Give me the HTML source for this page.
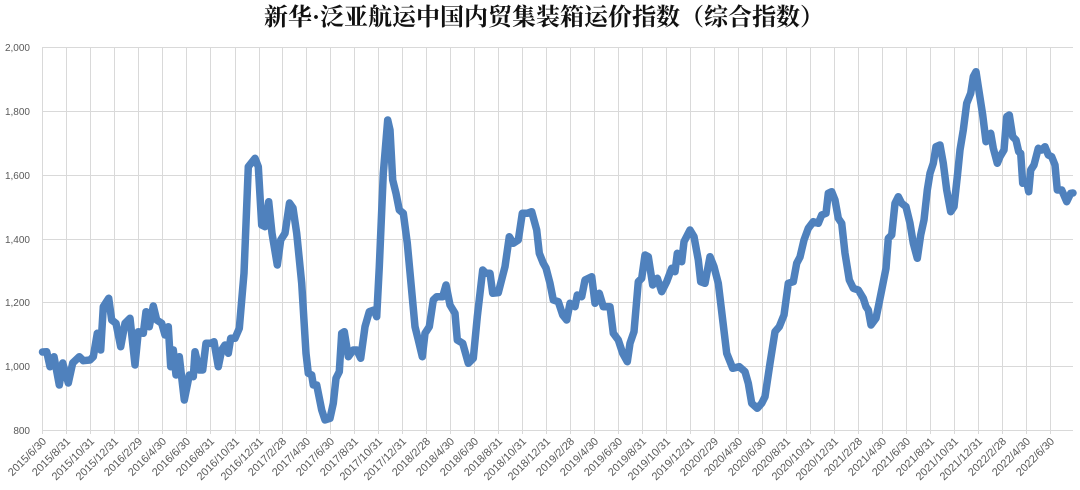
<!DOCTYPE html>
<html>
<head>
<meta charset="utf-8">
<style>
  html,body{margin:0;padding:0;background:#fff;}
  svg{display:block;}
  .yl{font-family:"Liberation Sans",sans-serif;font-size:10px;fill:#595959;}
  .xl{font-family:"Liberation Sans",sans-serif;font-size:11px;fill:#595959;}
  .title{font-family:"Liberation Serif","Noto Serif CJK SC",serif;font-size:24px;font-weight:bold;fill:#111;}
</style>
</head>
<body>
<svg width="1080" height="490" viewBox="0 0 1080 490" xmlns="http://www.w3.org/2000/svg">
  <rect x="0" y="0" width="1080" height="490" fill="#fff"/>
  <text class="title" x="264" y="25">新华·泛亚航运中国内贸集装箱运价指数（综合指数）</text>

  <!-- horizontal gridlines -->
  <g stroke="#d9d9d9" stroke-width="1">
    <line x1="42" y1="47.5" x2="1073" y2="47.5"/>
    <line x1="42" y1="111.5" x2="1073" y2="111.5"/>
    <line x1="42" y1="175.5" x2="1073" y2="175.5"/>
    <line x1="42" y1="239.5" x2="1073" y2="239.5"/>
    <line x1="42" y1="302.5" x2="1073" y2="302.5"/>
    <line x1="42" y1="366.5" x2="1073" y2="366.5"/>
    <line x1="42" y1="430.5" x2="1073" y2="430.5"/>
  </g>
  <!-- vertical gridlines -->
  <g stroke="#d9d9d9" stroke-width="1">
    <line x1="42.5" y1="47.5" x2="42.5" y2="434"/>
    <line x1="66.5" y1="47.5" x2="66.5" y2="434"/>
    <line x1="90.5" y1="47.5" x2="90.5" y2="434"/>
    <line x1="114.5" y1="47.5" x2="114.5" y2="434"/>
    <line x1="138.5" y1="47.5" x2="138.5" y2="434"/>
    <line x1="162.5" y1="47.5" x2="162.5" y2="434"/>
    <line x1="186.5" y1="47.5" x2="186.5" y2="434"/>
    <line x1="210.5" y1="47.5" x2="210.5" y2="434"/>
    <line x1="235.5" y1="47.5" x2="235.5" y2="434"/>
    <line x1="259.5" y1="47.5" x2="259.5" y2="434"/>
    <line x1="282.5" y1="47.5" x2="282.5" y2="434"/>
    <line x1="306.5" y1="47.5" x2="306.5" y2="434"/>
    <line x1="330.5" y1="47.5" x2="330.5" y2="434"/>
    <line x1="354.5" y1="47.5" x2="354.5" y2="434"/>
    <line x1="378.5" y1="47.5" x2="378.5" y2="434"/>
    <line x1="402.5" y1="47.5" x2="402.5" y2="434"/>
    <line x1="426.5" y1="47.5" x2="426.5" y2="434"/>
    <line x1="450.5" y1="47.5" x2="450.5" y2="434"/>
    <line x1="474.5" y1="47.5" x2="474.5" y2="434"/>
    <line x1="498.5" y1="47.5" x2="498.5" y2="434"/>
    <line x1="522.5" y1="47.5" x2="522.5" y2="434"/>
    <line x1="546.5" y1="47.5" x2="546.5" y2="434"/>
    <line x1="570.5" y1="47.5" x2="570.5" y2="434"/>
    <line x1="594.5" y1="47.5" x2="594.5" y2="434"/>
    <line x1="618.5" y1="47.5" x2="618.5" y2="434"/>
    <line x1="642.5" y1="47.5" x2="642.5" y2="434"/>
    <line x1="666.5" y1="47.5" x2="666.5" y2="434"/>
    <line x1="690.5" y1="47.5" x2="690.5" y2="434"/>
    <line x1="714.5" y1="47.5" x2="714.5" y2="434"/>
    <line x1="738.5" y1="47.5" x2="738.5" y2="434"/>
    <line x1="762.5" y1="47.5" x2="762.5" y2="434"/>
    <line x1="786.5" y1="47.5" x2="786.5" y2="434"/>
    <line x1="810.5" y1="47.5" x2="810.5" y2="434"/>
    <line x1="834.5" y1="47.5" x2="834.5" y2="434"/>
    <line x1="858.5" y1="47.5" x2="858.5" y2="434"/>
    <line x1="882.5" y1="47.5" x2="882.5" y2="434"/>
    <line x1="906.5" y1="47.5" x2="906.5" y2="434"/>
    <line x1="930.5" y1="47.5" x2="930.5" y2="434"/>
    <line x1="954.5" y1="47.5" x2="954.5" y2="434"/>
    <line x1="978.5" y1="47.5" x2="978.5" y2="434"/>
    <line x1="1002.5" y1="47.5" x2="1002.5" y2="434"/>
    <line x1="1026.5" y1="47.5" x2="1026.5" y2="434"/>
    <line x1="1050.5" y1="47.5" x2="1050.5" y2="434"/>
  </g>

  <!-- y labels -->
  <g class="yl" text-anchor="end">
    <text x="30" y="51">2,000</text>
    <text x="30" y="115">1,800</text>
    <text x="30" y="179">1,600</text>
    <text x="30" y="243">1,400</text>
    <text x="30" y="306">1,200</text>
    <text x="30" y="370">1,000</text>
    <text x="30" y="434">800</text>
  </g>

  <!-- x labels -->
  <g class="xl" text-anchor="end">
    <text transform="translate(47,442) rotate(-45)">2015/6/30</text>
    <text transform="translate(71,442) rotate(-45)">2015/8/31</text>
    <text transform="translate(95,442) rotate(-45)">2015/10/31</text>
    <text transform="translate(119,442) rotate(-45)">2015/12/31</text>
    <text transform="translate(143,442) rotate(-45)">2016/2/29</text>
    <text transform="translate(167,442) rotate(-45)">2016/4/30</text>
    <text transform="translate(191,442) rotate(-45)">2016/6/30</text>
    <text transform="translate(215,442) rotate(-45)">2016/8/31</text>
    <text transform="translate(240,442) rotate(-45)">2016/10/31</text>
    <text transform="translate(264,442) rotate(-45)">2016/12/31</text>
    <text transform="translate(287,442) rotate(-45)">2017/2/28</text>
    <text transform="translate(311,442) rotate(-45)">2017/4/30</text>
    <text transform="translate(335,442) rotate(-45)">2017/6/30</text>
    <text transform="translate(359,442) rotate(-45)">2017/8/31</text>
    <text transform="translate(383,442) rotate(-45)">2017/10/31</text>
    <text transform="translate(407,442) rotate(-45)">2017/12/31</text>
    <text transform="translate(431,442) rotate(-45)">2018/2/28</text>
    <text transform="translate(455,442) rotate(-45)">2018/4/30</text>
    <text transform="translate(479,442) rotate(-45)">2018/6/30</text>
    <text transform="translate(503,442) rotate(-45)">2018/8/31</text>
    <text transform="translate(527,442) rotate(-45)">2018/10/31</text>
    <text transform="translate(551,442) rotate(-45)">2018/12/31</text>
    <text transform="translate(575,442) rotate(-45)">2019/2/28</text>
    <text transform="translate(599,442) rotate(-45)">2019/4/30</text>
    <text transform="translate(623,442) rotate(-45)">2019/6/30</text>
    <text transform="translate(647,442) rotate(-45)">2019/8/31</text>
    <text transform="translate(671,442) rotate(-45)">2019/10/31</text>
    <text transform="translate(695,442) rotate(-45)">2019/12/31</text>
    <text transform="translate(719,442) rotate(-45)">2020/2/29</text>
    <text transform="translate(743,442) rotate(-45)">2020/4/30</text>
    <text transform="translate(767,442) rotate(-45)">2020/6/30</text>
    <text transform="translate(791,442) rotate(-45)">2020/8/31</text>
    <text transform="translate(815,442) rotate(-45)">2020/10/31</text>
    <text transform="translate(839,442) rotate(-45)">2020/12/31</text>
    <text transform="translate(863,442) rotate(-45)">2021/2/28</text>
    <text transform="translate(887,442) rotate(-45)">2021/4/30</text>
    <text transform="translate(911,442) rotate(-45)">2021/6/30</text>
    <text transform="translate(935,442) rotate(-45)">2021/8/31</text>
    <text transform="translate(959,442) rotate(-45)">2021/10/31</text>
    <text transform="translate(983,442) rotate(-45)">2021/12/31</text>
    <text transform="translate(1007,442) rotate(-45)">2022/2/28</text>
    <text transform="translate(1031,442) rotate(-45)">2022/4/30</text>
    <text transform="translate(1055,442) rotate(-45)">2022/6/30</text>
  </g>

  <!-- data series -->
  <polyline fill="none" stroke="#4f81bd" stroke-width="7.5" stroke-linejoin="round" stroke-linecap="round" points="
42.5,352 46.7,351.7 50,366.7 54,356.7 59.3,385 62.7,363 68.3,383 72.7,363 79.3,356.7 83.3,360.7 90,360 93.3,356.7 97.3,333.3 100.7,350 103.3,306.7 108.7,298.3 111.7,320 116,323.3 120.7,346.7 125,323.3 130,318.3 135,365 138.3,331.7 143.3,333.3 146,311.7 149.3,326.7 153.3,306 156.7,320 161.7,323.3 165,335 168.3,326.7 170.7,366.7 173.3,350 176,375 179.3,356.7 184.3,400 189.3,375 193.3,376.7 195,351.7 199.3,370 202.7,370 206,343.3 210.7,343.3 214,341.7 218.3,366.7 221.7,350 225,345 228.3,353.3 230.7,338.3 235,338.3 239.3,328.3 244,273.3 248.3,166.7 255,158.3 258.3,166.7 261.7,225 265,226.7 268.7,201.7 272,233.3 277.3,265 280.7,240 285,233.3 289.5,203 293,208 296.7,233.3 301.7,283.3 306,353.3
308.3,373.3 311.7,375 313.3,385 316.7,385 321.7,410 325,420 330,418.3 333.3,403.3 336,378.3 339.3,371.7 341.7,333.3 344.3,331.7 348.3,356.7 353.3,350 356.7,350 360.7,358.3 365,326.7 369.3,311.7 374,310 376.7,316.7 379.3,266.7 383.3,173.3 387.7,120 390,130 392.7,180 396,193.3 399.3,210 403.3,213.3 407.3,243.3 415,326.7 418.3,340 422.3,356.7 425,333.3 429.3,326.7 433.3,300 436.7,296.7 442.7,296.7 446,285 450,305 455,313.3 457.3,340 462.7,343.3 468.3,363.3 473.3,358.3 477.3,316.7 482.7,270 486,273.3 490,273.3 492.7,293.3 498.3,292.7 505,266.7 509.3,236.7 513.3,243.3 518.3,240 522.3,213.3 527.3,213.3 531.7,211.7 536.7,230 539.3,253.3 543.3,263.3
546,268 550,283.3 553.3,300 558.3,301.7 562.7,315 566.7,320 570,303.3 575,306.7 577.3,295 581.7,296.7 585,280 591.7,276.7 595,303.3 599.3,293.3 603.3,306.7 610,306.7 613.3,333.3 618.3,340 622.7,353.3 627.3,361.7 630,343.3 634,331.7 638.3,281.7 641.7,278.3 645,255 648.3,256.7 652.7,285 657.3,278.3 661.7,291.7 666.7,281.7 671.7,268.3 675,271.7 677.3,253.3 681.7,261.7 684,241.7 690,230 694,236.7 698.3,260 700.7,281.7 705,283.3 710,256.7 714,266.7 718.3,283.3 722.7,320 726.7,353.3 732.7,368.3 739.3,366.7 745,371.7 748.3,383.3 751.7,403.3 757.3,408.3 761.7,403.3 765,396.7 770,363.3 775,331.7 779.3,326.7 784,315 788.3,283.3 793.3,281.7 796.7,263.3 800,257
804,240 808.3,228.3 813.3,221.7 818.3,223.3 821.7,215 826,213.3 828.3,193.3 831.7,191.7 835,200 838.3,218.3 841.7,223.3 845,253.3 849.3,280 853.3,288.3 858.3,290 863.3,298.3 866,306.7 868.3,310 871,325 876,318.3 881.7,290 886,268.3 888.3,238.3 891.7,235 895,203.3 898.3,196.7 901.7,203.3 906,206.7 910,223.3 913.3,243.3 917.3,258.3 920.7,235 924,220 927.3,190 930,173.3 933.3,163.3 936,146.7 940,145 943.3,163.3 946.7,190 950.7,211.7 954,206.7 957.3,176.7 960,150 963.3,130 966.7,103.3 970.7,93.3 973.3,76.7 976,71.7 978.3,86.7 982.7,115 986,141.7 990.7,133.3 993.3,148.3 997.3,163.3 1000,156.7 1004,150 1006.7,116.7 1009.3,115 1012.7,136.7 1016,140 1018.7,151.7 1020.7,153.3 1022.7,183.3 1026.7,181.7 1028.7,191.7 1030.7,170 1034,165 1038.3,148.3 1041.7,150 1045,146.7 1048.3,155 1051.7,156.7 1055,165 1057.3,190 1061.7,190 1066.7,201.7 1070.7,193.3 1073,193
"/>
</svg>
</body>
</html>
